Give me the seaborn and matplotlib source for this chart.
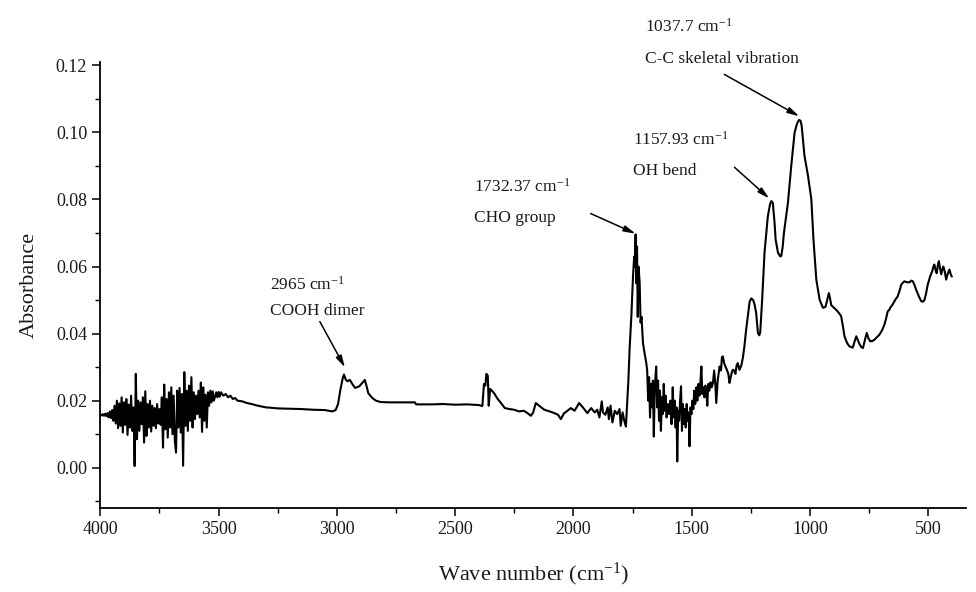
import numpy as np
import pandas as pd
import matplotlib
matplotlib.use("Agg")
import matplotlib.pyplot as plt
from matplotlib.ticker import MultipleLocator
import seaborn as sns

# ---- data ----
wavenumber = [
    4000, 3995, 3990, 3985, 3980, 3975, 3970, 3965, 3960, 3955, 3950, 3945, 3940, 3935, 3930, 3925,
    3920, 3915, 3910, 3905, 3900, 3895, 3890, 3885, 3880, 3875, 3870, 3865, 3860, 3855, 3850, 3845,
    3840, 3835, 3830, 3825, 3820, 3815, 3810, 3805, 3800, 3795, 3790, 3785, 3780, 3775, 3770, 3765,
    3760, 3755, 3750, 3745, 3740, 3735, 3730, 3725, 3720, 3715, 3710, 3705, 3700, 3695, 3690, 3685,
    3680, 3675, 3670, 3665, 3660, 3655, 3650, 3645, 3640, 3635, 3630, 3625, 3620, 3615, 3610, 3605,
    3600, 3595, 3590, 3585, 3580, 3575, 3570, 3565, 3560, 3555, 3550, 3545, 3540, 3535, 3530, 3525,
    3520, 3510, 3505, 3500, 3495, 3490, 3480, 3470, 3460, 3450, 3440, 3430, 3420, 3400, 3380, 3360,
    3340, 3320, 3300, 3280, 3250, 3200, 3150, 3100, 3050, 3020, 3005, 2995, 2985, 2975, 2970, 2962,
    2955, 2945, 2935, 2923, 2905, 2890, 2882, 2875, 2867, 2850, 2835, 2815, 2780, 2700, 2670, 2665,
    2600, 2550, 2500, 2450, 2400, 2385, 2378, 2372, 2368, 2362, 2358, 2352, 2345, 2335, 2320, 2306,
    2290, 2270, 2250, 2230, 2210, 2194, 2180, 2170, 2159, 2145, 2123, 2100, 2081, 2065, 2053, 2040,
    2025, 2011, 1995, 1976, 1960, 1941, 1925, 1910, 1899, 1890, 1880, 1875, 1865, 1855, 1850, 1843,
    1835, 1825, 1815, 1805, 1800, 1792, 1785, 1778, 1772, 1768, 1762, 1755, 1748, 1743, 1740, 1737,
    1734, 1731, 1728, 1725, 1720, 1716, 1712, 1706, 1700, 1692, 1688, 1684, 1680, 1676, 1672, 1668,
    1664, 1660, 1656, 1650, 1646, 1642, 1638, 1634, 1630, 1626, 1622, 1618, 1614, 1610, 1606, 1600,
    1595, 1590, 1585, 1580, 1576, 1572, 1568, 1564, 1561, 1557, 1553, 1549, 1545, 1541, 1537, 1533,
    1529, 1525, 1521, 1517, 1513, 1509, 1505, 1501, 1497, 1493, 1489, 1485, 1480, 1476, 1472, 1467,
    1463, 1459, 1455, 1450, 1446, 1442, 1438, 1434, 1430, 1425, 1420, 1415, 1410, 1405, 1400, 1396,
    1390, 1386, 1382, 1376, 1372, 1368, 1362, 1356, 1350, 1345, 1340, 1335, 1330, 1326, 1320, 1315,
    1310, 1305, 1298, 1290, 1283, 1277, 1270, 1261, 1255, 1248, 1240, 1234, 1227, 1220, 1214, 1210,
    1202, 1192, 1178, 1168, 1163, 1157, 1150, 1145, 1135, 1125, 1121, 1115, 1110, 1093, 1079, 1065,
    1055, 1047, 1040, 1035, 1023, 1008, 994, 985, 973, 959, 945, 934, 927, 920, 915, 910,
    900, 889, 878, 868, 860, 854, 843, 833, 819, 812, 804, 797, 790, 783, 776, 768,
    760, 752, 745, 736, 727, 716, 706, 695, 685, 678, 671, 665, 660, 650, 640, 629,
    620, 614, 607, 600, 590, 579, 572, 565, 558, 551, 540, 530, 523, 516, 509, 502,
    492, 483, 478, 474, 469, 464, 459, 455, 450, 445, 440, 436, 430, 424, 417, 410,
    405, 400,
]
absorbance = [
    0.0158, 0.0156, 0.0160, 0.0155, 0.0161, 0.0154, 0.0163, 0.0150, 0.0168, 0.0148, 0.0172, 0.0140, 0.0185, 0.0132, 0.0200, 0.0118,
    0.0192, 0.0125, 0.0210, 0.0105, 0.0195, 0.0128, 0.0205, 0.0098, 0.0188, 0.0120, 0.0215, 0.0110, 0.0180, 0.0005, 0.0280, 0.0085,
    0.0200, 0.0110, 0.0195, 0.0130, 0.0210, 0.0075, 0.0228, 0.0095, 0.0190, 0.0120, 0.0200, 0.0108, 0.0185, 0.0125, 0.0178, 0.0118,
    0.0190, 0.0132, 0.0175, 0.0128, 0.0210, 0.0060, 0.0248, 0.0115, 0.0205, 0.0090, 0.0225, 0.0120, 0.0240, 0.0100, 0.0215, 0.0080,
    0.0045, 0.0230, 0.0120, 0.0238, 0.0105, 0.0220, 0.0006, 0.0285, 0.0125, 0.0230, 0.0110, 0.0245, 0.0140, 0.0270, 0.0120, 0.0225,
    0.0145, 0.0215, 0.0160, 0.0230, 0.0150, 0.0254, 0.0107, 0.0240, 0.0140, 0.0218, 0.0120, 0.0225, 0.0185, 0.0230, 0.0195, 0.0228,
    0.0200, 0.0225, 0.0210, 0.0226, 0.0212, 0.0225, 0.0215, 0.0220, 0.0210, 0.0215, 0.0205, 0.0208, 0.0200, 0.0198, 0.0193, 0.0190,
    0.0186, 0.0183, 0.0180, 0.0179, 0.0177, 0.0176, 0.0175, 0.0173, 0.0172, 0.0168, 0.0172, 0.0190, 0.0233, 0.0268, 0.0278, 0.0262,
    0.0258, 0.0262, 0.0250, 0.0238, 0.0243, 0.0255, 0.0262, 0.0245, 0.0222, 0.0208, 0.0200, 0.0196, 0.0195, 0.0195, 0.0195, 0.0189,
    0.0189, 0.0190, 0.0188, 0.0189, 0.0187, 0.0184, 0.0250, 0.0245, 0.0280, 0.0275, 0.0185, 0.0235, 0.0230, 0.0222, 0.0205, 0.0193,
    0.0178, 0.0175, 0.0173, 0.0168, 0.0170, 0.0163, 0.0155, 0.0165, 0.0193, 0.0185, 0.0173, 0.0168, 0.0163, 0.0158, 0.0145, 0.0162,
    0.0170, 0.0178, 0.0170, 0.0193, 0.0180, 0.0163, 0.0178, 0.0165, 0.0173, 0.0150, 0.0198, 0.0165, 0.0158, 0.0180, 0.0145, 0.0185,
    0.0135, 0.0170, 0.0160, 0.0175, 0.0125, 0.0165, 0.0140, 0.0123, 0.0200, 0.0254, 0.0360, 0.0452, 0.0571, 0.0630, 0.0600, 0.0696,
    0.0550, 0.0660, 0.0450, 0.0600, 0.0555, 0.0433, 0.0450, 0.0373, 0.0345, 0.0313, 0.0290, 0.0200, 0.0270, 0.0150, 0.0250, 0.0180,
    0.0260, 0.0093, 0.0240, 0.0302, 0.0180, 0.0260, 0.0140, 0.0230, 0.0110, 0.0210, 0.0160, 0.0250, 0.0170, 0.0215, 0.0150, 0.0190,
    0.0160, 0.0200, 0.0130, 0.0240, 0.0150, 0.0200, 0.0120, 0.0180, 0.0019, 0.0170, 0.0140, 0.0200, 0.0243, 0.0110, 0.0190, 0.0130,
    0.0175, 0.0120, 0.0190, 0.0140, 0.0165, 0.0064, 0.0180, 0.0160, 0.0200, 0.0175, 0.0230, 0.0190, 0.0240, 0.0200, 0.0250, 0.0215,
    0.0255, 0.0302, 0.0220, 0.0240, 0.0210, 0.0245, 0.0233, 0.0185, 0.0250, 0.0230, 0.0255, 0.0240, 0.0253, 0.0290, 0.0250, 0.0193,
    0.0260, 0.0280, 0.0302, 0.0290, 0.0330, 0.0332, 0.0310, 0.0300, 0.0290, 0.0280, 0.0253, 0.0270, 0.0285, 0.0292, 0.0290, 0.0280,
    0.0305, 0.0312, 0.0292, 0.0305, 0.0330, 0.0362, 0.0410, 0.0462, 0.0495, 0.0505, 0.0500, 0.0487, 0.0460, 0.0402, 0.0395, 0.0405,
    0.0501, 0.0641, 0.0750, 0.0788, 0.0795, 0.0790, 0.0735, 0.0680, 0.0641, 0.0630, 0.0632, 0.0660, 0.0700, 0.0790, 0.0900, 0.0999,
    0.1025, 0.1037, 0.1035, 0.1020, 0.0930, 0.0870, 0.0800, 0.0680, 0.0561, 0.0501, 0.0477, 0.0480, 0.0500, 0.0521, 0.0505, 0.0485,
    0.0478, 0.0471, 0.0462, 0.0452, 0.0420, 0.0392, 0.0372, 0.0362, 0.0358, 0.0375, 0.0392, 0.0380, 0.0368, 0.0360, 0.0357, 0.0380,
    0.0402, 0.0385, 0.0377, 0.0378, 0.0382, 0.0390, 0.0397, 0.0410, 0.0427, 0.0445, 0.0467, 0.0470, 0.0478, 0.0487, 0.0500, 0.0511,
    0.0530, 0.0546, 0.0552, 0.0556, 0.0553, 0.0553, 0.0558, 0.0556, 0.0545, 0.0531, 0.0512, 0.0497, 0.0495, 0.0500, 0.0520, 0.0546,
    0.0570, 0.0586, 0.0600, 0.0606, 0.0590, 0.0580, 0.0605, 0.0616, 0.0595, 0.0577, 0.0592, 0.0600, 0.0585, 0.0561, 0.0580, 0.0591,
    0.0577, 0.0570,
]

# annotations: label lines, text anchor, arrow tail / head
ann_labels = ["2965 cm$^{-1}$", "1732.37 cm$^{-1}$", "1157.93 cm$^{-1}$", "1037.7 cm$^{-1}$"]
ann_names = ["COOH dimer", "CHO group", "OH bend", "C-C skeletal vibration"]
ann_text_x = [3283, 2421, 1750, 1699]
ann_text_y1 = [0.0546, 0.0839, 0.0979, 0.1316]
ann_text_y2 = [0.0466, 0.0745, 0.0884, 0.1220]
ann_tail = [(3072, 0.0436), (1927, 0.0758), (1319, 0.0896), (1362, 0.1173)]
ann_head = [(2966, 0.0299), (1737, 0.0698), (1172, 0.0803), (1045, 0.1048)]

x_ticks = [4000, 3500, 3000, 2500, 2000, 1500, 1000, 500]
y_ticks = [0.00, 0.02, 0.04, 0.06, 0.08, 0.10, 0.12]

# ---- plotting ----
sns.set_style("ticks")
plt.rcParams["font.family"] = ["Liberation Serif", "DejaVu Serif"]
plt.rcParams["mathtext.fontset"] = "custom"
plt.rcParams["mathtext.rm"] = "Liberation Serif"
plt.rcParams["mathtext.it"] = "Liberation Serif:italic"

df = pd.DataFrame({"wn": wavenumber, "abs": absorbance})

fig = plt.figure(figsize=(9.76, 5.92), dpi=100)
ax = fig.add_axes([0.1028, 0.1419, 0.8870, 0.7534])

sns.lineplot(data=df, x="wn", y="abs", ax=ax, color="black", linewidth=1.5,
             estimator=None, sort=False)

ax.set_xlim(4000, 340)
ax.set_ylim(-0.012, 0.121)
ax.set_xticks(x_ticks)
ax.set_xticklabels([str(v) for v in x_ticks])
ax.set_yticks(y_ticks)
ax.set_yticklabels([f"{v:.2f}" for v in y_ticks])
ax.xaxis.set_minor_locator(MultipleLocator(250))
ax.yaxis.set_minor_locator(MultipleLocator(0.01))
ax.tick_params(axis="both", which="major", length=6, width=1.1, labelsize=13, color="black",
               labelcolor="#1a1a1a")
ax.tick_params(axis="both", which="minor", length=3.5, width=1.0, color="black")

for side in ["top", "right"]:
    ax.spines[side].set_visible(False)
for side in ["left", "bottom"]:
    ax.spines[side].set_linewidth(1.3)
    ax.spines[side].set_color("black")

ax.set_xlabel("Wave number (cm$^{-1}$)", fontsize=16, labelpad=16, color="#1a1a1a")
ax.set_ylabel("Absorbance", fontsize=16, labelpad=12, color="#1a1a1a")

for lab, name, tx, ty1, ty2, tail, head in zip(ann_labels, ann_names, ann_text_x,
                                                ann_text_y1, ann_text_y2, ann_tail, ann_head):
    ax.text(tx, ty1, lab, fontsize=12.5, ha="left", va="center", color="#1a1a1a", clip_on=False)
    ax.text(tx, ty2, name, fontsize=12.5, ha="left", va="center", color="#1a1a1a", clip_on=False)
    ax.annotate("", xy=head, xytext=tail, annotation_clip=False,
                arrowprops=dict(arrowstyle="-|>,head_length=0.7,head_width=0.18",
                                color="black", lw=1.1, shrinkA=0, shrinkB=0))

fig.savefig("out.png", dpi=100)
